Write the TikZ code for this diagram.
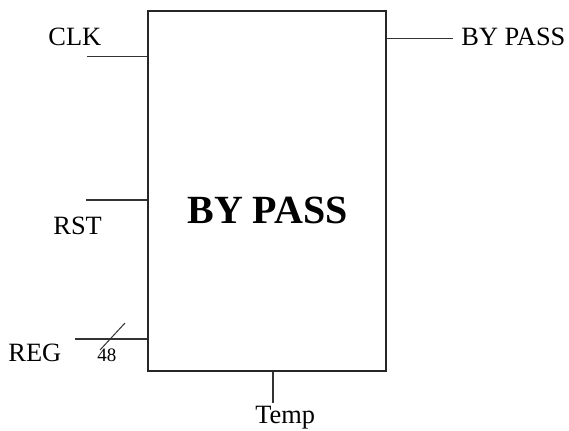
\documentclass[tikz,border=0pt]{standalone}
\usepackage{fontspec}
\setmainfont{Liberation Serif}
\usetikzlibrary{calc}

\begin{document}
\begin{tikzpicture}[x=0.5pt, y=-0.5pt,
    wire/.style={line width=0.65pt, draw=black!80},
    pin/.style={inner sep=0pt, anchor=base west, font=\fontsize{13.2}{15}\selectfont}]
  \useasboundingbox (0,0) rectangle (569,430);
  % block
  \node[draw=black!85, line width=0.65pt, minimum width=119pt, minimum height=180pt,
        inner sep=0pt] (blk) at (267,191) {};
  \node[inner sep=0pt, anchor=base west, font=\fontsize{20}{24}\bfseries] (title) at (187,223) {BY PASS};
  % inputs
  \coordinate (clkin) at (87,56.7);
  \coordinate (rstin) at (86,200);
  \coordinate (regin) at (75,339);
  \draw[wire] (clkin) -- (clkin -| blk.west);
  \draw[wire] (rstin) -- (rstin -| blk.west);
  \draw[wire] (regin) -- (regin -| blk.west);
  \node[pin] (clk) at (48,45) {CLK};
  \node[pin] (rst) at (53,234) {RST};
  \node[pin] (reg) at (8,361) {REG};
  % bus width
  \coordinate (busa) at (100,350);
  \coordinate (busb) at (125,323);
  \draw[wire, line width=0.5pt] (busa) -- (busb);
  \node[inner sep=0pt, anchor=base west, font=\fontsize{9.5}{11}\selectfont] (width) at (97,361) {48};
  % outputs
  \coordinate (bpout) at (453,38.7);
  \draw[wire] (bpout -| blk.east) -- (bpout);
  \node[pin] (bp) at (461,45) {BY PASS};
  \coordinate (tmpout) at (273,403);
  \draw[wire] (tmpout |- blk.south) -- (tmpout);
  \node[pin] (tmp) at (255,423) {Temp};
\end{tikzpicture}
\end{document}
